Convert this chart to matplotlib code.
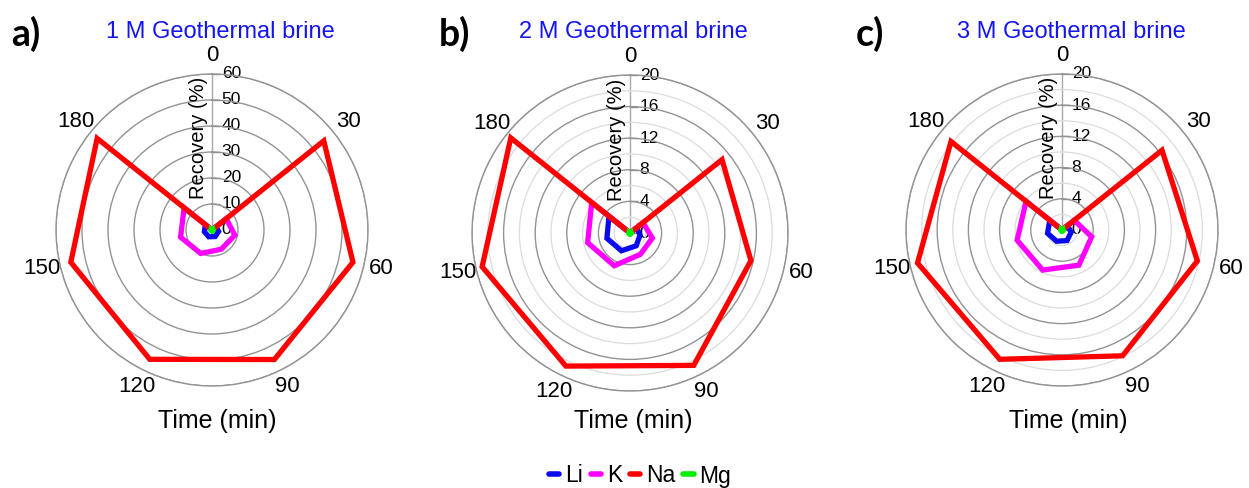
import numpy as np
import matplotlib.pyplot as plt
from matplotlib.lines import Line2D
import matplotlib.transforms as mtransforms

plt.rcParams['font.family'] = ['Liberation Sans', 'DejaVu Sans']

W, H = 1249, 488

# ---------------------------------------------------------------
# data: recovery (%) vs time
# ---------------------------------------------------------------
times = [0, 30, 60, 90, 120, 150, 180]
ions = ['Li', 'K', 'Na', 'Mg']
ion_colors = ['#0a0aee', '#ff00ff', '#ff0000', '#00ee00']

li_1m = [0, 2.0, 2.6, 2.8, 2.9, 3.0, 3.3]
k_1m = [0, 7.0, 9.0, 8.2, 10.0, 12.4, 13.7]
na_1m = [0, 55.0, 55.6, 55.3, 55.2, 55.7, 56.5]
mg_1m = [0, 0.4, 0.4, 0.4, 0.4, 0.4, 0.4]

li_2m = [0, 1.1, 1.3, 1.8, 2.5, 3.0, 3.4]
k_2m = [0, 2.1, 2.9, 3.0, 4.6, 5.5, 6.2]
na_2m = [0, 14.9, 15.7, 18.6, 18.7, 19.2, 19.3]
mg_2m = [0, 0.15, 0.15, 0.15, 0.15, 0.15, 0.15]

li_3m = [0, 0.9, 1.2, 1.5, 1.6, 1.9, 2.0]
k_3m = [0, 2.0, 3.9, 5.0, 5.7, 5.9, 5.9]
na_3m = [0, 16.4, 17.8, 17.9, 18.4, 19.0, 18.2]
mg_3m = [0, 0.15, 0.15, 0.15, 0.15, 0.15, 0.15]

panel_letters = ['a)', 'b)', 'c)']
panel_titles = ['1 M Geothermal brine', '2 M Geothermal brine', '3 M Geothermal brine']
panel_data = [
    [li_1m, k_1m, na_1m, mg_1m],
    [li_2m, k_2m, na_2m, mg_2m],
    [li_3m, k_3m, na_3m, mg_3m],
]
r_max = [60, 20, 20]
r_major = [[0, 10, 20, 30, 40, 50, 60], [0, 4, 8, 12, 16, 20], [0, 4, 8, 12, 16, 20]]
r_minor = [[], [2, 6, 10, 14, 18], [2, 6, 10, 14, 18]]

# layout (pixel centre and radius of each polar plot)
centres = [(212, 230, 156), (630, 233, 158), (1062, 230, 156)]
letter_x = [26, 454, 870]
title_x = [220, 633, 1071]
xlabel_x = [217, 633, 1068]

fig = plt.figure(figsize=(W / 100, H / 100), dpi=100)

angles = np.arange(len(times)) * 2 * np.pi / len(times)
closed_angles = np.append(angles, angles[0])

for i in range(3):
    cx, cy, rad = centres[i]
    ax = fig.add_axes([(cx - rad) / W, (H - cy - rad) / H, 2 * rad / W, 2 * rad / H],
                      projection='polar')
    ax.set_theta_zero_location('N')
    ax.set_theta_direction(-1)

    for vals, col in zip(panel_data[i], ion_colors):
        ax.plot(closed_angles, np.append(vals, vals[0]), color=col, lw=3.8,
                solid_joinstyle='miter', clip_on=False)

    ax.set_ylim(0, r_max[i])
    ax.set_yticks(r_major[i])
    ax.set_yticklabels([])
    if r_minor[i]:
        ax.set_yticks(r_minor[i], minor=True)
        ax.yaxis.grid(True, which='minor', color='#dcdcdc', lw=0.9)
    ax.yaxis.grid(True, which='major', color='#939393', lw=1.0)

    ax.set_xticks(angles)
    ax.set_xticklabels([str(t) for t in times], fontsize=16)
    ax.tick_params(axis='x', pad=2.5)
    ax.xaxis.grid(True, color='#a8a8a8', lw=1.0)
    for j, gl in enumerate(ax.xaxis.get_gridlines()):
        gl.set_visible(j == 0)

    ax.spines['polar'].set_color('#939393')
    ax.spines['polar'].set_linewidth(1.0)

    # radial tick labels along the 0 spoke
    off = mtransforms.ScaledTranslation(7 / 72, 0, fig.dpi_scale_trans)
    for r in r_major[i]:
        ax.text(0, r, str(r), fontsize=12.5, ha='left', va='center',
                transform=ax.transData + off, zorder=1)
    ax.plot(np.zeros(len(r_major[i])), r_major[i], ls='none', marker=1, ms=6,
            mew=1, color='#8a8a8a', clip_on=False, zorder=1)

    ax.text(0.486, 0.795, 'Recovery (%)', rotation=90, fontsize=14.5,
            ha='right', va='center', transform=ax.transAxes)

    fig.text(letter_x[i] / W, 1 - 34 / H, panel_letters[i], fontsize=27,
             fontweight='bold', family='Lato', ha='center', va='center')
    fig.text(title_x[i] / W, 1 - 32 / H, panel_titles[i], fontsize=17,
             color='#1414f5', ha='center', va='center')
    fig.text(xlabel_x[i] / W, 1 - 421 / H, 'Time (min)', fontsize=18,
             ha='center', va='center')

handles = [Line2D([], [], color=c, lw=4, solid_capstyle='round') for c in ion_colors]
fig.legend(handles, ions, loc='center', bbox_to_anchor=(640 / W, 1 - 476 / H), ncol=4,
           frameon=False, fontsize=16.5, handlelength=0.45, handletextpad=0.25,
           columnspacing=0.35, borderpad=0)

fig.savefig('out.png', dpi=100)
